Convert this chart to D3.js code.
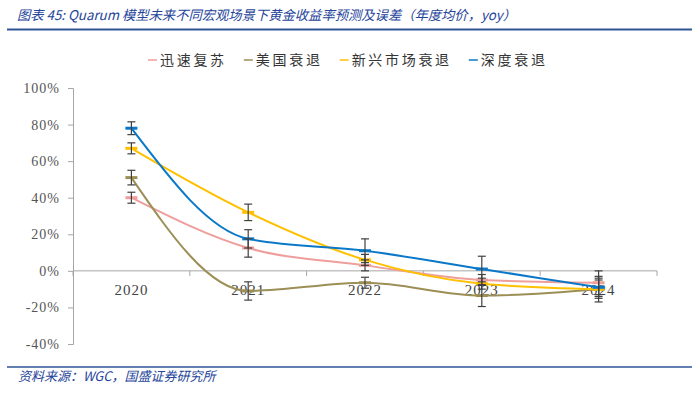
<!DOCTYPE html>
<html>
<head>
<meta charset="utf-8">
<script src="https://cdn.jsdelivr.net/npm/d3@7"></script>
<style>
body { margin: 0; background: #fff; }
svg { display: block; }
</style>
</head>
<body>
<script>
// chart size
var w = 700;
var h = 396;

var years = ["2020", "2021", "2022", "2023", "2024"];
var yTicks = [-40, -20, 0, 20, 40, 60, 80, 100];

var seriesNames = ["迅速复苏", "美国衰退", "新兴市场衰退", "深度衰退"];
var seriesColors = ["#ee9f9c", "#9c8f56", "#ffc000", "#0a78c8"];

// yoy %
var rapidRecovery = [40, 12.5, 3, -5, -6.5];
var usRecession = [51, -11, -6.5, -13.5, -10];
var emRecession = [67, 32, 6, -7, -10];
var deepRecession = [78, 17.5, 11, 1, -9];

// error bar half-widths, %
var rapidErr = [3, 5, 3, 3, 6.5];
var usErr = [4, 5, 3, 6, 7];
var emErr = [3, 4.5, 3, 3, 5];
var deepErr = [3.5, 5, 6.5, 7, 5];

var allValues = [rapidRecovery, usRecession, emRecession, deepRecession];
var allErr = [rapidErr, usErr, emErr, deepErr];

var svg = d3.select("body").append("svg")
    .attr("width", w)
    .attr("height", h);

// title
svg.append("text")
    .attr("x", 17)
    .attr("y", 20)
    .attr("font-family", "'Noto Sans CJK SC', sans-serif")
    .attr("font-size", "13.3px")
    .attr("font-style", "italic")
    .attr("fill", "#25449a")
    .text("图表 45:  Quarum 模型未来不同宏观场景下黄金收益率预测及误差（年度均价，yoy）");

svg.append("line")
    .attr("x1", 7).attr("x2", 692)
    .attr("y1", 29.5).attr("y2", 29.5)
    .attr("stroke", "#2f5597")
    .attr("stroke-width", 2);

// footer
svg.append("line")
    .attr("x1", 7).attr("x2", 692)
    .attr("y1", 367).attr("y2", 367)
    .attr("stroke", "#2f5597")
    .attr("stroke-width", 1.5);

svg.append("text")
    .attr("x", 18)
    .attr("y", 381)
    .attr("font-family", "'Noto Sans CJK SC', sans-serif")
    .attr("font-size", "13px")
    .attr("font-style", "italic")
    .attr("fill", "#25449a")
    .text("资料来源：WGC，国盛证券研究所");

// scales
var x = d3.scaleBand()
    .domain(years)
    .range([73, 657]);

var y = d3.scaleLinear()
    .domain([-40, 100])
    .range([344, 88]);

// y axis
var yAxis = svg.append("g")
    .attr("transform", "translate(73,0)")
    .call(d3.axisLeft(y)
        .tickValues(yTicks)
        .tickSize(5)
        .tickPadding(8)
        .tickFormat(function(d) { return d + "%"; }));

yAxis.select(".domain").attr("stroke", "#a6a6a6");
yAxis.selectAll(".tick line").attr("stroke", "#a6a6a6");
yAxis.selectAll(".tick text")
    .attr("font-family", "'Liberation Serif', serif")
    .attr("font-size", "14px")
    .attr("letter-spacing", "1px")
    .attr("fill", "#555");

// x axis at zero line
var xAxisG = svg.append("g")
    .attr("transform", "translate(0," + y(0) + ")");

xAxisG.append("line")
    .attr("x1", 73).attr("x2", 657)
    .attr("y1", 0).attr("y2", 0)
    .attr("stroke", "#a6a6a6");

var bounds = years.map(function(d) { return x(d); }).concat([x.range()[1]]);
xAxisG.selectAll(".xtick")
    .data(bounds)
    .enter()
    .append("line")
    .attr("x1", function(d) { return d; })
    .attr("x2", function(d) { return d; })
    .attr("y1", 0)
    .attr("y2", 5)
    .attr("stroke", "#a6a6a6");

xAxisG.selectAll(".xlabel")
    .data(years)
    .enter()
    .append("text")
    .attr("x", function(d) { return x(d) + x.bandwidth() / 2; })
    .attr("y", 24)
    .attr("text-anchor", "middle")
    .attr("font-family", "'Liberation Serif', serif")
    .attr("font-size", "15px")
    .attr("letter-spacing", "1px")
    .attr("fill", "#444")
    .text(function(d) { return d; });

// smoothed lines
var line = d3.line()
    .x(function(d, i) { return x(years[i]) + x.bandwidth() / 2; })
    .y(function(d) { return y(d); })
    .curve(d3.curveMonotoneX);

allValues.forEach(function(vals, s) {
    svg.append("path")
        .datum(vals)
        .attr("d", line)
        .attr("fill", "none")
        .attr("stroke", seriesColors[s])
        .attr("stroke-width", 2);

    // dash markers
    svg.selectAll(".m" + s)
        .data(vals)
        .enter()
        .append("line")
        .attr("x1", function(d, i) { return x(years[i]) + x.bandwidth() / 2 - 6; })
        .attr("x2", function(d, i) { return x(years[i]) + x.bandwidth() / 2 + 6; })
        .attr("y1", function(d) { return y(d); })
        .attr("y2", function(d) { return y(d); })
        .attr("stroke", seriesColors[s])
        .attr("stroke-width", 3);
});

// error bars
allValues.forEach(function(vals, s) {
    var err = allErr[s];
    var g = svg.append("g")
        .attr("stroke", "#404040")
        .attr("stroke-width", 1.2);

    vals.forEach(function(v, i) {
        var cx = x(years[i]) + x.bandwidth() / 2;
        g.append("line")
            .attr("x1", cx).attr("x2", cx)
            .attr("y1", y(v + err[i])).attr("y2", y(v - err[i]));
        g.append("line")
            .attr("x1", cx - 4).attr("x2", cx + 4)
            .attr("y1", y(v + err[i])).attr("y2", y(v + err[i]));
        g.append("line")
            .attr("x1", cx - 4).attr("x2", cx + 4)
            .attr("y1", y(v - err[i])).attr("y2", y(v - err[i]));
    });
});

// legend, laid out left to right
var legend = svg.append("g");
var lx = 148;
seriesNames.forEach(function(name, i) {
    var item = legend.append("g")
        .attr("transform", "translate(" + lx + ",60)");

    item.append("line")
        .attr("x1", 0).attr("x2", 9)
        .attr("y1", 0).attr("y2", 0)
        .attr("stroke", seriesColors[i])
        .attr("stroke-width", 1.5);

    var t = item.append("text")
        .attr("x", 12)
        .attr("y", 5)
        .attr("font-family", "'Noto Sans CJK SC', sans-serif")
        .attr("font-size", "14px")
        .attr("letter-spacing", "2.7px")
        .attr("fill", "#333")
        .text(name);

    lx += 12 + t.node().getComputedTextLength() + 17;
});
</script>
</body>
</html>
